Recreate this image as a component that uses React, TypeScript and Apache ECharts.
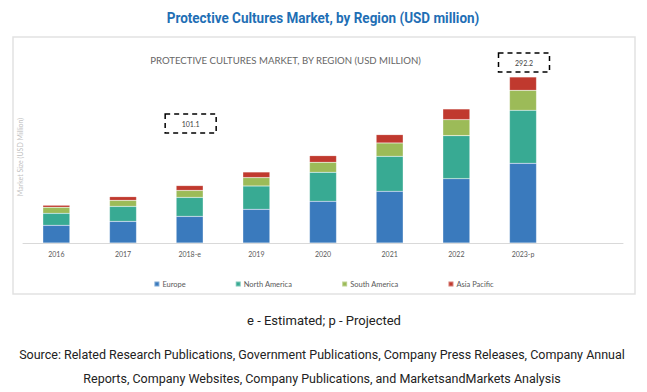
import React, { useEffect, useRef } from "react";
import * as echarts from "echarts";

const categories = ["2016", "2017", "2018-e", "2019", "2020", "2021", "2022", "2023-p", ""];
const europe = [31.1, 38.1, 46.9, 59.3, 73.4, 91.0, 113.3, 140.3, null];
const northAmerica = [21.1, 26.4, 33.4, 41.1, 51.1, 61.6, 75.7, 93.3, null];
const southAmerica = [10.6, 10.6, 12.3, 14.7, 17.6, 23.5, 28.2, 35.2, null];
const asiaPacific = [3.5, 6.5, 8.5, 10.0, 11.7, 14.7, 18.8, 23.5, null];
const seriesNames = ["Europe", "North America", "South America", "Asia Pacific"];
const seriesColors = ["#3a7abd", "#38aa93", "#9cbb58", "#c0392e"];
const annotations = [
  { category: "2018-e", text: "101.1", y: 114 },
  { category: "2023-p", text: "292.2", y: 53 },
];

export default function App() {
  const ref = useRef<HTMLDivElement>(null);
  useEffect(() => {
    document.body.style.margin = "0";
    const chart = echarts.init(ref.current!, undefined, { renderer: "svg" });
    const data = [europe, northAmerica, southAmerica, asiaPacific];
    const inner = "Lato, 'Open Sans', sans-serif";
    chart.setOption({
      animation: false,
      backgroundColor: "#ffffff",
      grid: { left: 23, right: 24, top: 72.6, bottom: 149, containLabel: false },
      xAxis: {
        type: "category",
        data: categories,
        axisLine: { lineStyle: { color: "#d9d9d9", width: 1 } },
        axisTick: { show: false },
        axisLabel: { color: "#595959", fontSize: 7, fontFamily: inner, margin: 7 },
      },
      yAxis: {
        type: "value",
        min: 0,
        max: 300,
        show: false,
        splitLine: { show: false },
      },
      legend: {
        data: seriesNames,
        left: "center",
        top: 275,
        itemWidth: 5,
        itemHeight: 5,
        itemGap: 49,
        icon: "rect",
        textStyle: { color: "#595959", fontSize: 7.5, fontFamily: inner, padding: [0, 0, 0, -2] },
      },
      series: data.map((d, i) => ({
        name: seriesNames[i],
        type: "bar",
        stack: "total",
        data: d,
        barWidth: 27,
        itemStyle: { color: seriesColors[i], borderColor: "rgba(255,255,255,0.35)", borderWidth: 0.5 },
      })),
    });

    const ann = annotations.flatMap((a) => {
      const cx = chart.convertToPixel({ xAxisIndex: 0 }, a.category) as number;
      return [
        {
          type: "rect",
          shape: { x: cx + 1 - 25.5, y: a.y, width: 51, height: 19 },
          style: { fill: "none", stroke: "#000", lineWidth: 1.5, lineDash: [5, 4] },
        },
        {
          type: "text",
          x: cx + 1,
          y: a.y + 9.5,
          style: { text: a.text, fill: "#404040", font: `7px ${inner}`, align: "center", verticalAlign: "middle" },
        },
      ];
    });

    const srcFont = "12.5px Roboto, sans-serif";
    chart.setOption({
      graphic: [
        {
          type: "rect",
          shape: { x: 13, y: 37, width: 622, height: 257 },
          style: { fill: "none", stroke: "#e2e2e2", lineWidth: 1.5 },
          z: -1,
        },
        {
          type: "text",
          x: 323,
          y: 18,
          scaleX: 0.9,
          style: {
            text: "Protective Cultures Market, by Region (USD million)",
            fill: "#1f6fb5",
            font: "bold 15px Roboto, sans-serif",
            align: "center",
            verticalAlign: "middle",
          },
        },
        {
          type: "text",
          x: 285.5,
          y: 60,
          style: {
            text: "PROTECTIVE CULTURES MARKET, BY REGION (USD MILLION)",
            fill: "#666666",
            font: `9.6px ${inner}`,
            align: "center",
            verticalAlign: "middle",
          },
        },
        {
          type: "text",
          x: 20,
          y: 157,
          rotation: Math.PI / 2,
          style: {
            text: "Market Size (USD Million)",
            fill: "#bfbfbf",
            font: `7px ${inner}`,
            align: "center",
            verticalAlign: "middle",
          },
        },
        ...ann,
        {
          type: "text",
          x: 324,
          y: 320,
          style: { text: "e - Estimated; p - Projected", fill: "#222", font: "13px Roboto, sans-serif", align: "center", verticalAlign: "middle" },
        },
        {
          type: "text",
          x: 322,
          y: 354,
          style: {
            text: "Source: Related Research Publications, Government Publications, Company Press Releases, Company Annual",
            fill: "#222",
            font: srcFont,
            align: "center",
            verticalAlign: "middle",
          },
        },
        {
          type: "text",
          x: 322,
          y: 378,
          style: {
            text: "Reports, Company Websites, Company Publications, and MarketsandMarkets Analysis",
            fill: "#222",
            font: srcFont,
            align: "center",
            verticalAlign: "middle",
          },
        },
      ],
    });
    return () => chart.dispose();
  }, []);
  return <div ref={ref} style={{ position: "fixed", left: 0, top: 0, width: 647, height: 392 }} />;
}
